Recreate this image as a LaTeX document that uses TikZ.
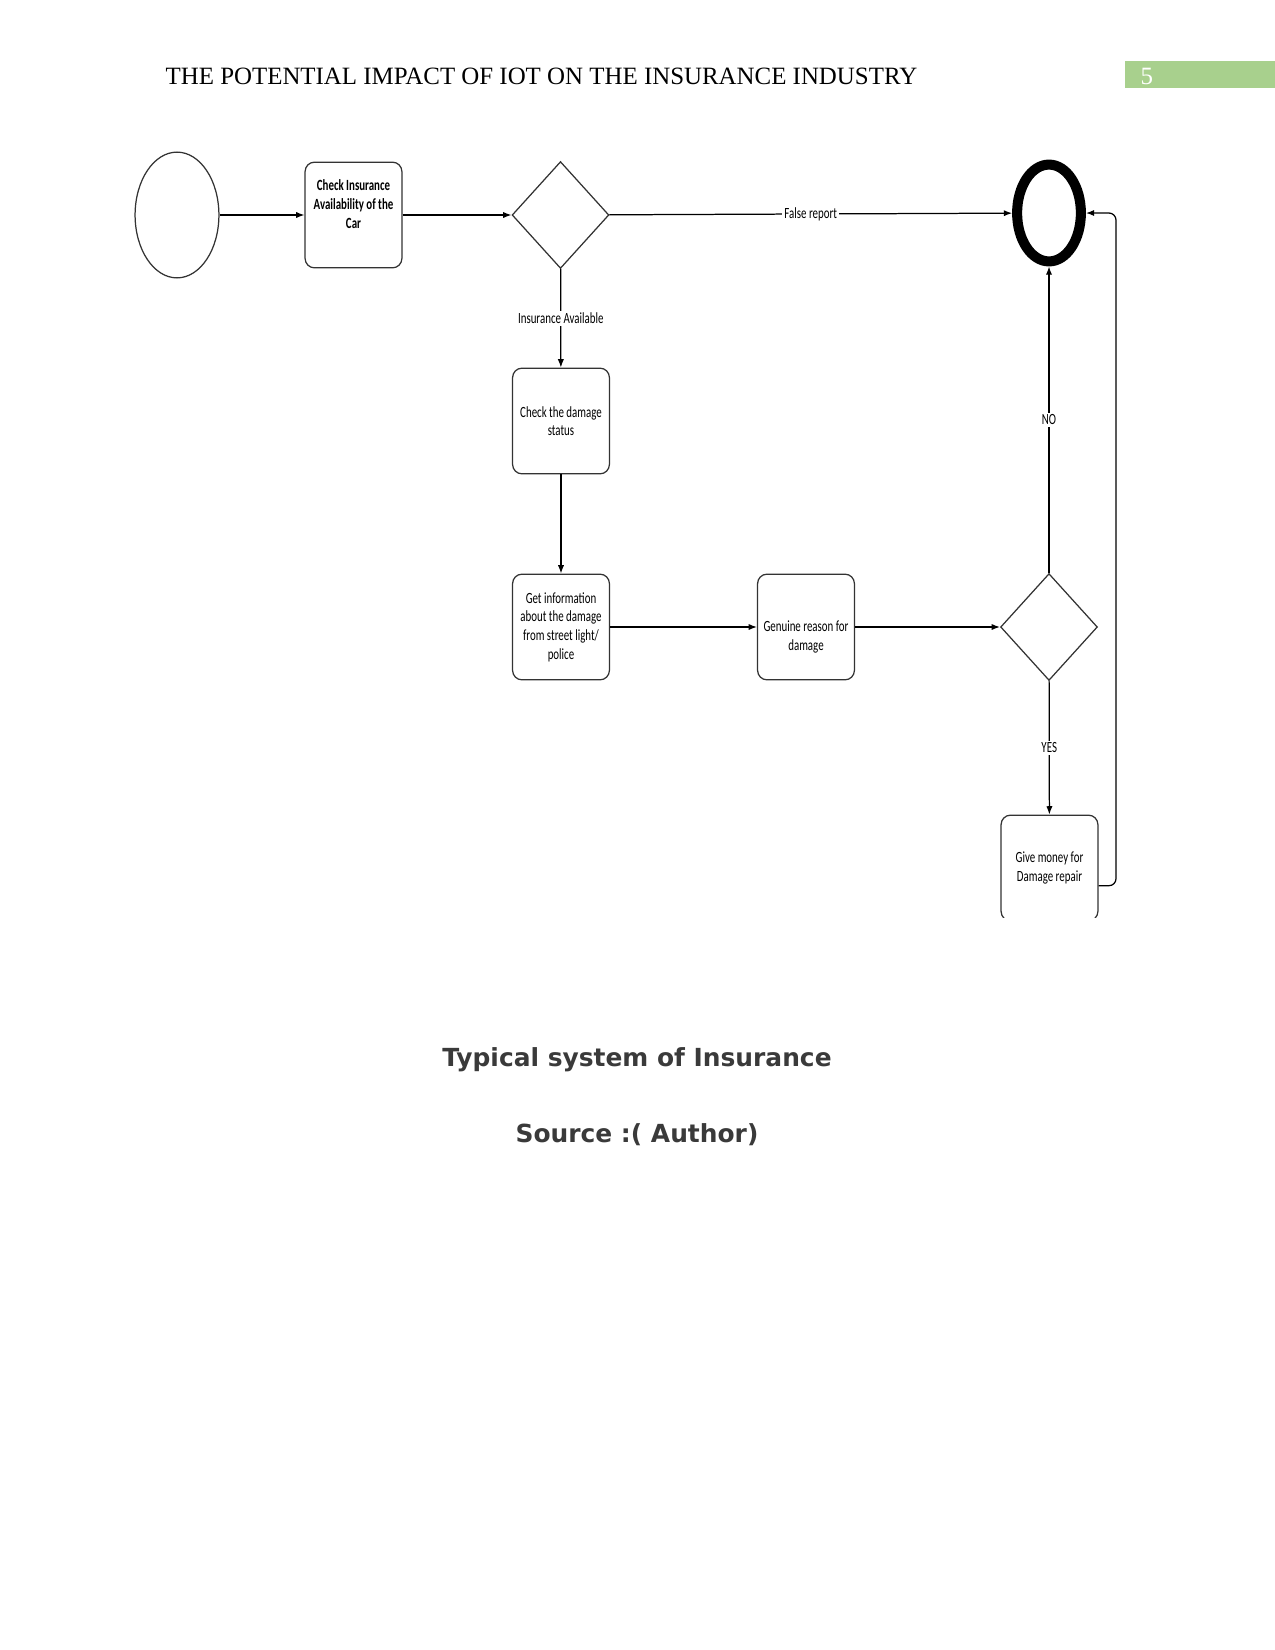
\documentclass[tikz,border=0pt]{standalone}
\usepackage{fontspec}
\setmainfont{Liberation Serif}
\newfontfamily\flowfont[FakeStretch=0.7]{Carlito}
\newfontfamily\capfont{DejaVu Sans}
\usepackage{xcolor}
\usetikzlibrary{shapes.geometric, positioning, arrows.meta}

\definecolor{hdrgreen}{HTML}{A8D08D}
\definecolor{capgray}{HTML}{3A3A3A}
\definecolor{edgegray}{HTML}{333333}

\begin{document}
\begin{tikzpicture}[x=0.016933cm, y=-0.016933cm, ->, >={Latex[length=4pt,width=3pt]}, line width=0.6pt,
    box/.style={draw=edgegray, rounded corners=0.16cm, minimum width=1.64cm, minimum height=1.79cm,
                align=center, inner sep=0pt, font=\flowfont\fontsize{7.5}{9}\selectfont},
    decision/.style={diamond, draw=edgegray, minimum width=1.64cm, minimum height=1.81cm, inner sep=0pt},
    lbl/.style={fill=white, inner sep=1pt, font=\flowfont\fontsize{7.5}{9}\selectfont},
    caption/.style={font=\capfont\bfseries\fontsize{12}{14}\selectfont, text=capgray}]
    \useasboundingbox (0,0) rectangle (1275,1650);

    % page header
    \fill[hdrgreen] (1125,61) rectangle (1275,88);
    \node[anchor=base west, inner sep=0pt, font=\fontsize{12}{14}\selectfont] (header) at (165,84)
        {THE POTENTIAL IMPACT OF IOT ON THE INSURANCE INDUSTRY};
    \node[anchor=base west, inner sep=0pt, text=white, font=\fontsize{12}{14}\selectfont] (pagenum) at (1140,84) {5};

    % flow chart
    \node[ellipse, draw=edgegray, minimum width=1.42cm, minimum height=2.13cm] (start) at (177,215) {};
    \node[box, font=\flowfont\bfseries\fontsize{7.5}{9}\selectfont, text height=23.2pt, text depth=10.6pt] (avail) at (353.5,215)
        {Check Insurance\\ Availability of the\\ Car};
    \node[decision] (insd) at (560.5,215) {};
    \node[box] (status) at (561,421) {Check the damage\\ status};
    \node[box] (info) at (561,627) {Get information\\ about the damage\\ from street light/\\ police};
    \node[box, text height=24.2pt, text depth=1.5pt] (genuine) at (806,627) {Genuine reason for\\ damage};
    \node[decision] (genq) at (1049,627) {};
    \node[ellipse, draw=black, line width=0.17cm, minimum width=1.08cm, minimum height=1.64cm] (stop) at (1049,213) {};
    \begin{scope}
        \clip (980,800) rectangle (1130,917);
        \node[box] (payout) at (1049.5,868) {Give money for\\ Damage repair};
    \end{scope}
    \coordinate (rside) at (1116,0);

    \path (start) edge (avail)
          (avail) edge (insd)
          (insd) edge node[lbl] {False report} (stop)
          (insd) edge node[lbl] {Insurance Available} (status)
          (status) edge (info)
          (info) edge (genuine)
          (genuine) edge (genq)
          (genq) edge node[lbl] {NO} (stop)
          (genq) edge node[lbl] {YES} (payout);
    \draw[rounded corners=0.12cm] ([yshift=-0.3cm]payout.east) -| (rside |- stop.east) -- (stop.east);

    % caption
    \node[caption] (title) at (637,1060) {Typical system of Insurance};
    \node[caption] (source) at (637,1135) {Source :( Author)};
\end{tikzpicture}
\end{document}
